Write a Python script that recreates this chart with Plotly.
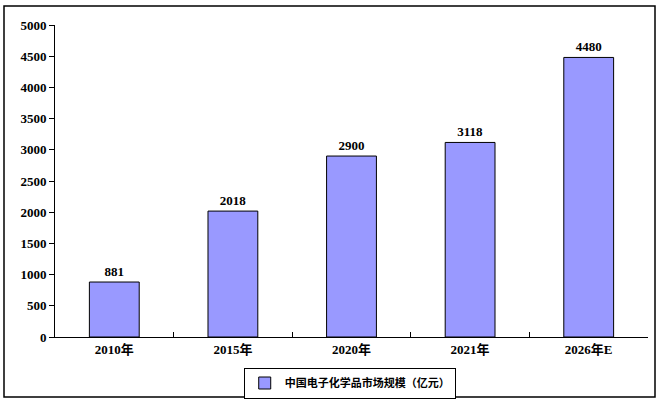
import plotly.graph_objects as go

categories = ["2010年", "2015年", "2020年", "2021年", "2026年E"]
values = [881, 2018, 2900, 3118, 4480]
series_name = "中国电子化学品市场规模（亿元）"
y_ticks = [0, 500, 1000, 1500, 2000, 2500, 3000, 3500, 4000, 4500, 5000]

W, H = 668, 403
L, R, T, B = 55, 20, 25, 66
pw = W - L - R
ph = H - T - B

fig = go.Figure()
fig.add_trace(go.Bar(
    x=categories, y=values, name=series_name,
    marker=dict(color="#9999FF", line=dict(color="black", width=1)),
    width=0.42,
    text=[str(v) for v in values], textposition="outside",
    textfont=dict(family="Liberation Serif", size=13, color="black", weight="bold"),
    cliponaxis=False,
    showlegend=True,
))

fig.update_layout(
    width=W, height=H,
    margin=dict(l=L, r=R, t=T, b=B, autoexpand=False),
    paper_bgcolor="white", plot_bgcolor="white",
    font=dict(family="Liberation Serif, Noto Sans CJK SC", size=13, color="black"),
    xaxis=dict(
        showline=True, linecolor="black", linewidth=1,
        ticks="inside", tickson="boundaries", ticklen=5, tickcolor="black",
        tickfont=dict(family="Liberation Serif, Noto Sans CJK SC", size=13, weight="bold"),
        showgrid=False, automargin=False,
    ),
    yaxis=dict(
        range=[0, 5000], tickvals=y_ticks,
        showline=True, linecolor="black", linewidth=1,
        ticks="outside", ticklen=5, tickcolor="black",
        tickfont=dict(family="Liberation Serif", size=13, weight="bold"),
        showgrid=False, zeroline=False, automargin=False,
    ),
    legend=dict(
        orientation="h", x=0.497, xanchor="center",
        yref="container", y=(H - 383) / H, yanchor="middle",
        bordercolor="black", borderwidth=1,
        font=dict(family="Noto Sans CJK SC", size=11, weight="bold"),
        itemwidth=30,
    ),
    shapes=[dict(
        type="rect", xref="paper", yref="paper",
        x0=(4 - L) / pw, x1=(655 - L) / pw,
        y0=(H - B - 397) / ph, y1=(H - B - 6) / ph,
        line=dict(color="black", width=1.5), fillcolor="rgba(0,0,0,0)", layer="above",
    )],
)

fig.write_html(
    "out.html",
    config={"displayModeBar": False},
    post_script="document.body.style.margin='0';document.body.style.overflow='hidden';",
)
